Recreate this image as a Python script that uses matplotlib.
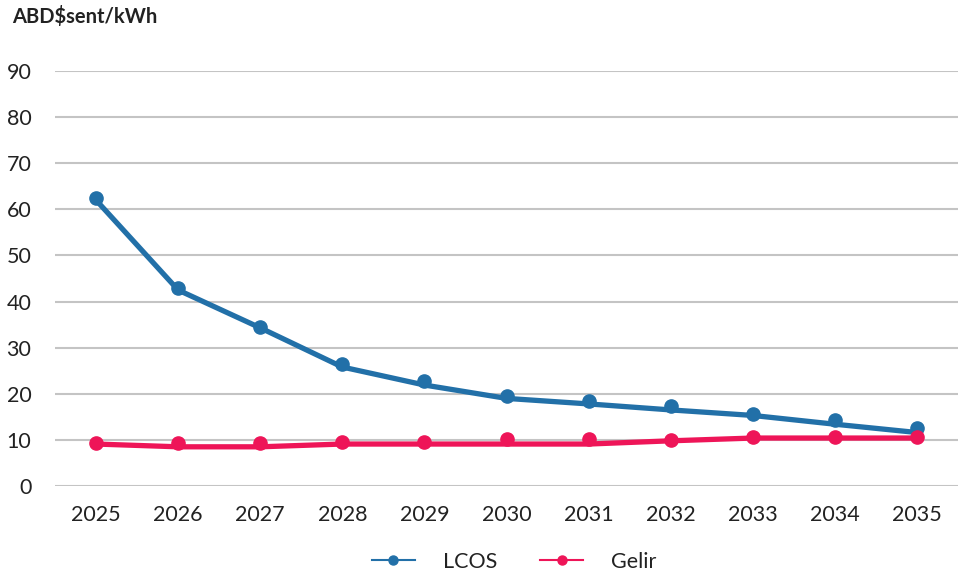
import matplotlib
matplotlib.use("Agg")
import matplotlib.pyplot as plt
from matplotlib.lines import Line2D

plt.rcParams['font.family'] = ['Lato', 'DejaVu Sans']

years = ["2025", "2026", "2027", "2028", "2029", "2030",
         "2031", "2032", "2033", "2034", "2035"]

# Reported values (markers) and the drawn curve for each series
lcos_points = [62.5, 42.9, 34.5, 26.5, 22.8, 19.6, 18.4, 17.3, 15.6, 14.3, 12.6]
lcos_line = [62.0, 42.5, 34.3, 25.8, 21.9, 19.0, 17.8, 16.5, 15.3, 13.4, 11.6]
gelir_points = [9.3, 9.3, 9.3, 9.5, 9.5, 10.1, 10.1, 10.0, 10.6, 10.6, 10.6]
gelir_line = [9.1, 8.5, 8.5, 9.1, 9.1, 9.1, 9.1, 9.8, 10.4, 10.4, 10.4]

yticks = [0, 10, 20, 30, 40, 50, 60, 70, 80, 90]

blue = "#2270a8"
pink = "#ee1558"
grid = "#c4c4c4"
text = "#222222"

fig = plt.figure(figsize=(9.74, 5.76), dpi=100)
ax = fig.add_axes([55 / 974, 90 / 576, 903 / 974, 415 / 576])

x = list(range(len(years)))

ax.plot(x, lcos_line, color=blue, lw=3.8, solid_capstyle='butt', zorder=3)
ax.plot(x, lcos_points, ls='none', marker='o', ms=9.5, color=blue, zorder=4)
ax.plot(x, gelir_line, color=pink, lw=3.8, solid_capstyle='butt', zorder=3)
ax.plot(x, gelir_points, ls='none', marker='o', ms=9.5, color=pink, zorder=4)

ax.set_xlim(-0.5, len(years) - 0.5)
ax.set_ylim(0, 90)
ax.set_yticks(yticks)
ax.set_yticklabels([str(v) for v in yticks])
ax.set_xticks(x)
ax.set_xticklabels(years)
ax.tick_params(axis='both', length=0, labelsize=15.5, colors=text)
ax.tick_params(axis='y', pad=17)
ax.tick_params(axis='x', pad=14)
for lbl in ax.get_xticklabels() + ax.get_yticklabels():
    lbl.set_color(text)

ax.grid(axis='y', color=grid, lw=1.5)
ax.set_axisbelow(True)
for s in ax.spines.values():
    s.set_visible(False)

fig.text(12 / 974, 1 - 17 / 576, "ABD$sent/kWh", fontsize=14.5,
         fontweight='bold', color=text, ha='left', va='center')

handles = [
    Line2D([], [], color=blue, lw=1.5, marker='o', ms=6.5),
    Line2D([], [], color=pink, lw=1.5, marker='o', ms=6.5),
]
fig.legend(handles, ["LCOS", "Gelir"], loc='center', bbox_to_anchor=(0.528, 1 - 562 / 576),
           ncol=2, frameon=False, fontsize=15.5, handlelength=2.0,
           columnspacing=2.0, handletextpad=1.3, labelcolor=text)

fig.savefig("out.png", dpi=100)
